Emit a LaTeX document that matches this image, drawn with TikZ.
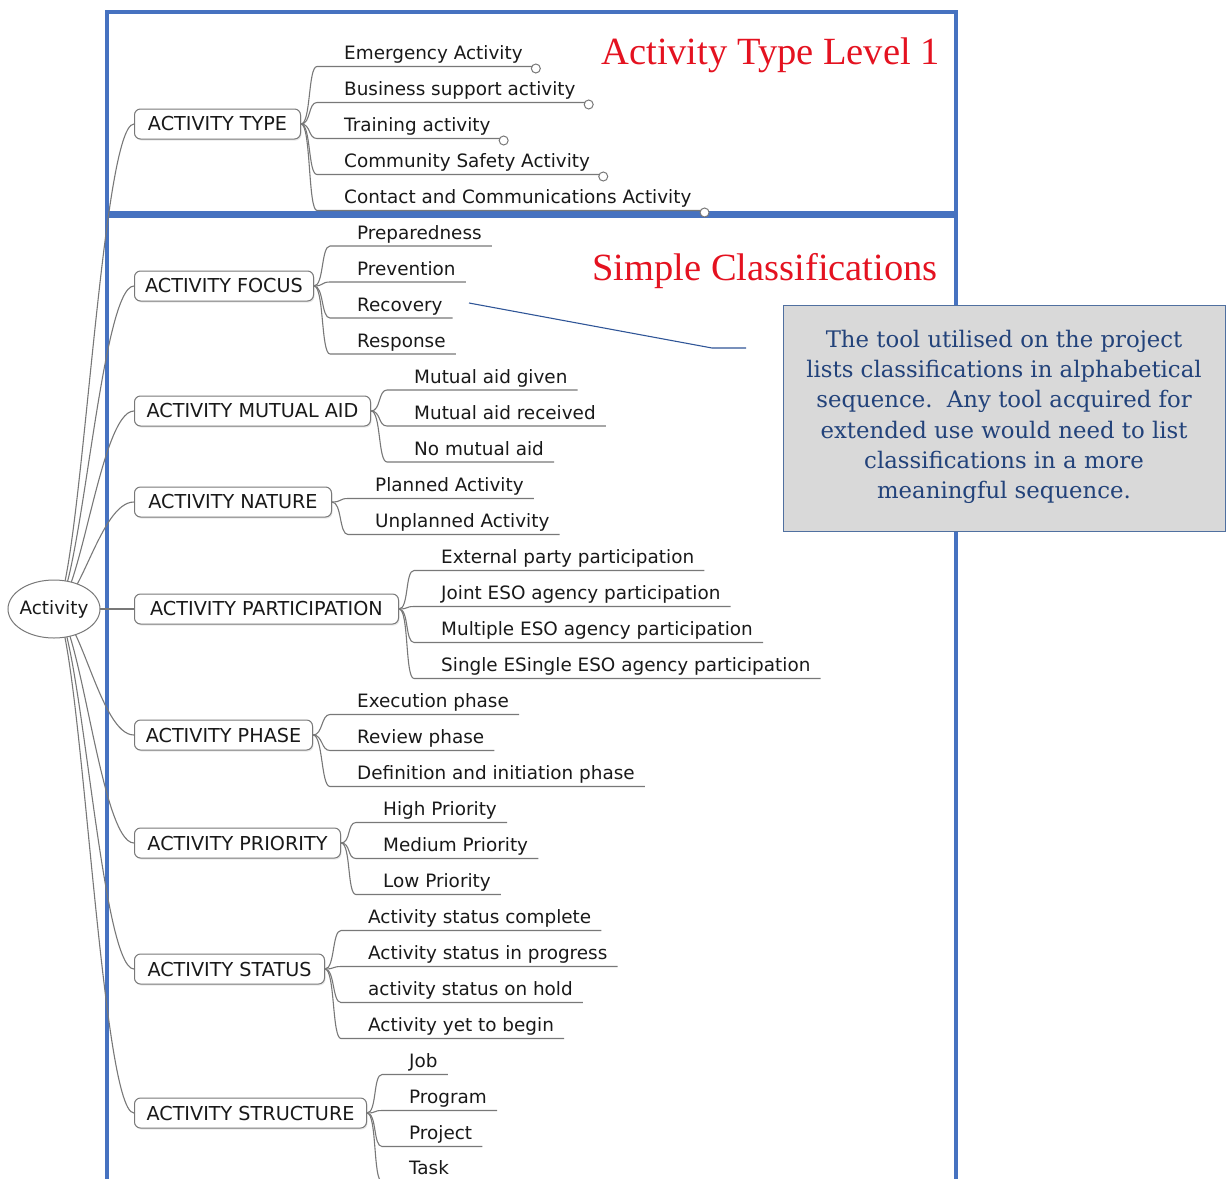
\documentclass[tikz,border=0pt]{standalone}
\usepackage{fontspec}
\setmainfont{DejaVu Sans}
\newfontfamily\mapfont{DejaVu Sans}
\newfontfamily\titlefont{Liberation Serif}
\newfontfamily\notefont{DejaVu Serif}
\usetikzlibrary{shapes.geometric,shadows}

\definecolor{frameblue}{RGB}{70,114,192}
\definecolor{titlered}{RGB}{228,18,32}
\definecolor{noteblue}{RGB}{34,66,122}
\definecolor{notefill}{RGB}{217,217,217}
\definecolor{noteedge}{RGB}{80,112,160}
\definecolor{pinblue}{RGB}{47,85,151}
\definecolor{branchgray}{RGB}{120,120,120}
\definecolor{inkgray}{RGB}{25,25,25}

\pgfdeclarelayer{frames}
\pgfdeclarelayer{lines}
\pgfsetlayers{frames,lines,main}

% leaf of the map: text over an underline, joined to its parent by a curve
% #1 parent, #2 name, #3 text x, #4 underline y, #5 text
\newcommand\leafnode[5]{%
  \node[leaftext] (#2) at (#3,#4-7) {#5};
  \path (#2.base west) ++(-27,7) coordinate (#2-s);
  \path (#2.base east) ++(10,7) coordinate (#2-e);
  \begin{pgfonlayer}{lines}
    \draw[branch] (#1.east) .. controls +(10,0) and +(-9,0) .. (#2-s) -- (#2-e);
  \end{pgfonlayer}}
% small open circle closing a leaf line
\newcommand\leafknob[1]{\path (#1-e) ++(3,2) node[knob] {};}

\begin{document}
\begin{tikzpicture}[x=1pt,y=-1pt,
  frame/.style={draw=frameblue,line width=4pt},
  branch/.style={draw=branchgray,line width=1.1pt},
  leaffont/.style={font=\mapfont\fontsize{18.4}{20}\selectfont},
  catfont/.style={font=\mapfont\fontsize{19.2}{20}\selectfont},
  cat/.style={catfont,draw=branchgray,fill=white,rounded corners=6pt,
    minimum height=30pt,anchor=west,inner xsep=6pt,inner ysep=0pt,text=inkgray,
    line width=1pt,drop shadow={opacity=0.18,shadow xshift=1pt,shadow yshift=-1.5pt}},
  leaftext/.style={leaffont,anchor=base west,inner sep=0pt,text=inkgray},
  knob/.style={circle,draw=branchgray,fill=white,minimum size=9pt,inner sep=0pt,line width=1pt},
  rootnode/.style={ellipse,leaffont,draw=branchgray,fill=white,minimum width=92pt,
    minimum height=58pt,inner xsep=-5pt,inner ysep=0pt,text=inkgray,line width=1pt},
  heading/.style={anchor=base east,text=titlered,inner sep=0pt,
    font=\titlefont\fontsize{38.5}{40}\selectfont},
  notebox/.style={draw=noteedge,fill=notefill,line width=1pt,minimum width=442pt,
    minimum height=226pt,inner sep=0pt},
  notetext/.style={text=noteblue,align=center,inner sep=0pt,
    font=\notefont\fontsize{22.8}{30.3}\selectfont},
  pinline/.style={draw=pinblue,line width=1.1pt}]

\useasboundingbox (0,0) rectangle (1231,1178);

% the two framed regions
\begin{pgfonlayer}{frames}
  \draw[frame] (107,12) rectangle (956,213);
  \draw[frame] (107,216) rectangle (956,1240);
\end{pgfonlayer}

\node[heading] (lvl1) at (940,64) {Activity Type Level 1};
\node[heading] (simple) at (938,280) {Simple Classifications};

% root and the categories
\node[rootnode] (root) at (54,609) {Activity};
\node[cat,minimum width=166pt] (type) at (134,124) {ACTIVITY TYPE};
\node[cat,minimum width=179pt] (focus) at (134,286) {ACTIVITY FOCUS};
\node[cat,minimum width=236pt] (mutual) at (134,411) {ACTIVITY MUTUAL AID};
\node[cat,minimum width=197pt] (nature) at (134,502) {ACTIVITY NATURE};
\node[cat,minimum width=264pt] (part) at (134,609) {ACTIVITY PARTICIPATION};
\node[cat,minimum width=178pt] (phase) at (134,735) {ACTIVITY PHASE};
\node[cat,minimum width=206pt] (prio) at (134,843) {ACTIVITY PRIORITY};
\node[cat,minimum width=190pt] (status) at (134,969) {ACTIVITY STATUS};
\node[cat,minimum width=232pt] (struct) at (134,1113) {ACTIVITY STRUCTURE};

\begin{pgfonlayer}{lines}
  \foreach \c in {type,focus,mutual,nature,part,phase,prio,status,struct}
    \draw[branch] (root.center) .. controls +(26,0) and +(-34,0) .. (\c.west);
\end{pgfonlayer}

% leaves
\leafnode{type}{t1}{344}{66.5}{Emergency Activity}\leafknob{t1}
\leafnode{type}{t2}{344}{102.5}{Business support activity}\leafknob{t2}
\leafnode{type}{t3}{344}{138.5}{Training activity}\leafknob{t3}
\leafnode{type}{t4}{344}{174.5}{Community Safety Activity}\leafknob{t4}
\leafnode{type}{t5}{344}{210.5}{Contact and Communications Activity}\leafknob{t5}

\leafnode{focus}{f1}{357}{246}{Preparedness}
\leafnode{focus}{f2}{357}{282}{Prevention}
\leafnode{focus}{f3}{357}{318}{Recovery}
\leafnode{focus}{f4}{357}{354}{Response}

\leafnode{mutual}{m1}{414}{390}{Mutual aid given}
\leafnode{mutual}{m2}{414}{426}{Mutual aid received}
\leafnode{mutual}{m3}{414}{462}{No mutual aid}

\leafnode{nature}{n1}{375}{498.5}{Planned Activity}
\leafnode{nature}{n2}{375}{534.5}{Unplanned Activity}

\leafnode{part}{p1}{441}{570.5}{External party participation}
\leafnode{part}{p2}{441}{606.5}{Joint ESO agency participation}
\leafnode{part}{p3}{441}{642.5}{Multiple ESO agency participation}
\leafnode{part}{p4}{441}{678.5}{Single ESingle ESO agency participation}

\leafnode{phase}{h1}{357}{714.5}{Execution phase}
\leafnode{phase}{h2}{357}{750.5}{Review phase}
\leafnode{phase}{h3}{357}{786.5}{Definition and initiation phase}

\leafnode{prio}{r1}{383}{822.5}{High Priority}
\leafnode{prio}{r2}{383}{858.5}{Medium Priority}
\leafnode{prio}{r3}{383}{894.5}{Low Priority}

\leafnode{status}{s1}{368}{930.5}{Activity status complete}
\leafnode{status}{s2}{368}{966.5}{Activity status in progress}
\leafnode{status}{s3}{368}{1002.5}{activity status on hold}
\leafnode{status}{s4}{368}{1038.5}{Activity yet to begin}

\leafnode{struct}{u1}{409}{1074.5}{Job}
\leafnode{struct}{u2}{409}{1110.5}{Program}
\leafnode{struct}{u3}{409}{1146.5}{Project}
\leafnode{struct}{u4}{409}{1181.5}{Task}

% note box and its pointer
\node[notebox] (note) at (1004,418) {};
\node[notetext] (notetxt) at (1004,417) {The tool utilised on the project\\
  lists classifications in alphabetical\\
  sequence.\ \ Any tool acquired for\\
  extended use would need to list\\
  classifications in a more\\
  meaningful sequence.};
\coordinate (pin) at (469,303);
\coordinate (kink) at (712,348);
\coordinate (tail) at (746,348);
\draw[pinline] (pin) -- (kink) -- (tail);
\end{tikzpicture}
\end{document}
